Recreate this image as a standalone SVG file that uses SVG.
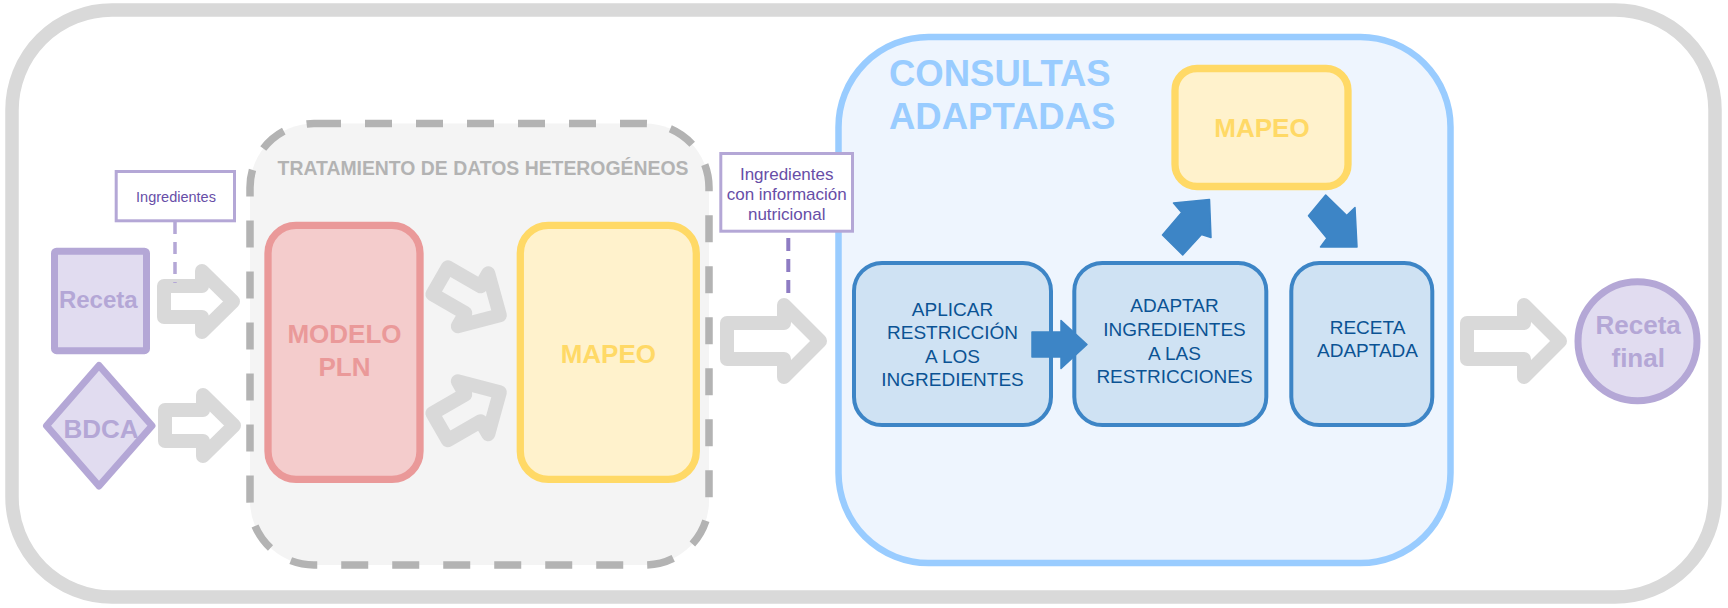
<svg xmlns="http://www.w3.org/2000/svg" width="1728" height="608" viewBox="0 0 1728 608">
  <defs>
    <style>
      .t { font-family: "Liberation Sans", Arial, sans-serif; }
      .b { font-weight: bold; }
      .garrow { fill: none; stroke: #d9d9d9; stroke-width: 14; stroke-linejoin: round; }
      .barrow { fill: #3d85c6; stroke: #3d85c6; stroke-width: 1.5; stroke-linejoin: round; }
      .bluebox { fill: #cfe2f3; stroke: #3d85c6; stroke-width: 4; }
      .bluetxt { font-size: 19px; fill: #0b5394; text-anchor: middle; }
      .purple { fill: #e1dcf0; stroke: #b4a7d6; stroke-width: 7; }
      .ptxt { fill: #b4a7d6; text-anchor: middle; font-weight: bold; }
      .label { fill: #ffffff; stroke: #b4a7d6; stroke-width: 3; }
      .ltxt { fill: #674ea7; text-anchor: middle; }
    </style>
    <path id="arrowS" d="M-34.5,-15.5 H3.5 V-30.5 L34.5,0 L3.5,30.5 V15.5 H-34.5 Z"/>
  </defs>

  <rect id="frame" x="12" y="10" width="1703" height="587" rx="100" ry="100" fill="#ffffff" stroke="#d9d9d9" stroke-width="13.5"/>

  <g id="tratamiento">
    <rect x="250" y="123.5" width="459" height="441.5" rx="64" ry="64" fill="#f4f4f4" stroke="#b3b3b3" stroke-width="7.5" stroke-dasharray="27 24"/>
    <text class="t b" x="483" y="175" font-size="19.4" fill="#b3b3b3" text-anchor="middle">TRATAMIENTO DE DATOS HETEROGÉNEOS</text>
  </g>

  <g id="consultas">
    <rect x="838.5" y="37" width="612" height="526" rx="90" ry="90" fill="#eef5fe" stroke="#99ccff" stroke-width="6.5"/>
    <text class="t b" x="889" y="86" font-size="36.5" fill="#99ccff">CONSULTAS</text>
    <text class="t b" x="889" y="129.3" font-size="36.5" fill="#99ccff">ADAPTADAS</text>
  </g>

  <g id="receta">
    <rect class="purple" x="54.5" y="251.2" width="92" height="99.5" rx="2"/>
    <text class="t ptxt" x="98.3" y="307.7" font-size="24">Receta</text>
  </g>

  <g id="bdca">
    <path class="purple" d="M99,365.5 L152,425.7 L99,486 L46.5,425.7 Z" stroke-linejoin="round"/>
    <text class="t ptxt" x="101" y="438.3" font-size="26">BDCA</text>
  </g>

  <g id="modelo-pln">
    <rect x="268" y="225.3" width="152" height="254" rx="28" ry="28" fill="#f4cccc" stroke="#ea9999" stroke-width="7.3"/>
    <text class="t b" x="344.5" y="342.7" font-size="26" fill="#ea9999" text-anchor="middle">MODELO</text>
    <text class="t b" x="344.5" y="376" font-size="26" fill="#ea9999" text-anchor="middle">PLN</text>
  </g>

  <g id="mapeo-1">
    <rect x="520.3" y="225.3" width="176" height="254" rx="28" ry="28" fill="#fff2cc" stroke="#ffd966" stroke-width="7.3"/>
    <text class="t b" x="608.3" y="362.7" font-size="26" fill="#ffd966" text-anchor="middle">MAPEO</text>
  </g>

  <g id="mapeo-2">
    <rect x="1175" y="68.5" width="173" height="118" rx="22" ry="22" fill="#fff2cc" stroke="#ffd966" stroke-width="7.3"/>
    <text class="t b" x="1262" y="136.5" font-size="26" fill="#ffd966" text-anchor="middle">MAPEO</text>
  </g>

  <g id="aplicar">
    <rect class="bluebox" x="854" y="263" width="197" height="162" rx="28" ry="28"/>
    <text class="t bluetxt" x="952.5" y="316">APLICAR</text>
    <text class="t bluetxt" x="952.5" y="339.3">RESTRICCIÓN</text>
    <text class="t bluetxt" x="952.5" y="362.7">A LOS</text>
    <text class="t bluetxt" x="952.5" y="386">INGREDIENTES</text>
  </g>

  <g id="adaptar">
    <rect class="bluebox" x="1074.3" y="263" width="192" height="162" rx="28" ry="28"/>
    <text class="t bluetxt" x="1174.5" y="312.3">ADAPTAR</text>
    <text class="t bluetxt" x="1174.5" y="336">INGREDIENTES</text>
    <text class="t bluetxt" x="1174.5" y="359.5">A LAS</text>
    <text class="t bluetxt" x="1174.5" y="383.3">RESTRICCIONES</text>
  </g>

  <g id="receta-adaptada">
    <rect class="bluebox" x="1291.3" y="263" width="141" height="162" rx="28" ry="28"/>
    <text class="t bluetxt" x="1367.5" y="334.2">RECETA</text>
    <text class="t bluetxt" x="1367.5" y="356.8">ADAPTADA</text>
  </g>

  <g id="receta-final">
    <circle class="purple" cx="1637.5" cy="341.2" r="59.5"/>
    <text class="t ptxt" x="1638.2" y="334" font-size="26">Receta</text>
    <text class="t ptxt" x="1638.2" y="366.7" font-size="26">final</text>
  </g>

  <g id="connectors">
    <path class="garrow" d="M164,286 H202 V271 L233,301.5 L202,332 V317 H164 Z"/>
    <path class="garrow" d="M165,410 H203 V395 L234,425.5 L203,456 V441 H165 Z"/>
    <use class="garrow" href="#arrowS" transform="translate(470,298) rotate(30)"/>
    <use class="garrow" href="#arrowS" transform="translate(470,409.5) rotate(-30)"/>
    <path class="garrow" d="M727,323 H784 V305 L820,341 L784,377 V359 H727 Z"/>
    <path class="garrow" d="M1467,323 H1524 V305 L1560,341 L1524,377 V359 H1467 Z"/>
    <path class="barrow" d="M1032,332 H1061 V320.5 L1087,344.5 L1061,368.5 V357 H1032 Z"/>
    <path class="barrow" d="M1162.5,235 L1181.7,212.5 L1173.5,203 L1209.5,199.5 L1211,237.5 L1201.5,234.5 L1182.7,255 Z"/>
    <path class="barrow" d="M1325.7,195 L1346.7,215.5 L1355,207.5 L1357,247 L1320.5,247 L1327,238.3 L1308.5,215.7 Z"/>
    <line x1="175" y1="222" x2="175" y2="283" stroke="#b4a7d6" stroke-width="3.5" stroke-dasharray="12 8"/>
    <line x1="788.3" y1="238" x2="788.3" y2="300" stroke="#8e7cc3" stroke-width="4" stroke-dasharray="13 8"/>
  </g>

  <g id="label-ingredientes">
    <rect class="label" x="116.2" y="171.5" width="118.3" height="49.3"/>
    <text class="t ltxt" x="176" y="202.3" font-size="14.5">Ingredientes</text>
  </g>

  <g id="label-nutricional">
    <rect class="label" x="720.8" y="153.5" width="131.7" height="77.7"/>
    <text class="t ltxt" x="786.7" y="180" font-size="17">Ingredientes</text>
    <text class="t ltxt" x="786.7" y="200" font-size="17">con información</text>
    <text class="t ltxt" x="786.7" y="220" font-size="17">nutricional</text>
  </g>
</svg>
